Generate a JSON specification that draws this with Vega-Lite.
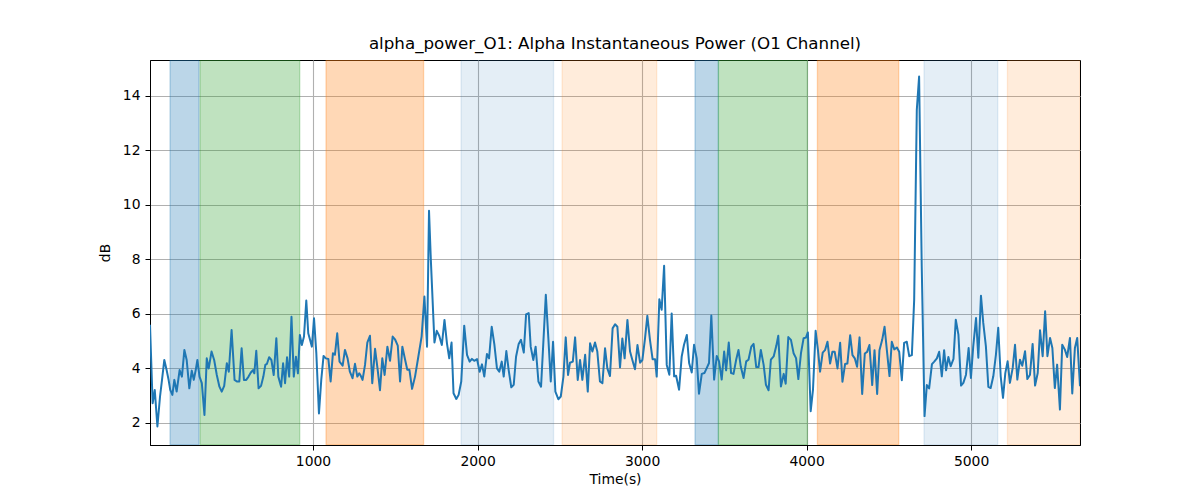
{
  "$schema": "https://vega.github.io/schema/vega-lite/v6.json",
  "width": 930,
  "height": 385,
  "autosize": "none",
  "padding": {"left": 150, "top": 60, "right": 120, "bottom": 55},
  "background": "white",
  "title": {
    "text": "alpha_power_O1: Alpha Instantaneous Power (O1 Channel)",
    "font": "DejaVu Sans",
    "fontSize": 16.7,
    "fontWeight": "normal",
    "color": "black",
    "anchor": "middle",
    "offset": 7
  },
  "config": {
    "font": "DejaVu Sans",
    "view": {"stroke": "black", "strokeWidth": 1},
    "axis": {
      "labelFont": "DejaVu Sans",
      "labelFontSize": 13.9,
      "labelColor": "black",
      "titleFont": "DejaVu Sans",
      "titleFontSize": 13.9,
      "titleFontWeight": "normal",
      "titleColor": "black",
      "tickColor": "black",
      "tickSize": 5,
      "domainColor": "black",
      "gridColor": "#b0b0b0",
      "gridWidth": 1.1,
      "labelPadding": 4
    }
  },
  "datasets": {
    "bands": [
      {"start": 131, "end": 307, "phase": "P1"},
      {"start": 313, "end": 919, "phase": "P2"},
      {"start": 1079, "end": 1672, "phase": "P3"},
      {"start": 1900, "end": 2462, "phase": "P4"},
      {"start": 2514, "end": 3089, "phase": "P5"},
      {"start": 3322, "end": 3464, "phase": "P1"},
      {"start": 3464, "end": 4005, "phase": "P2"},
      {"start": 4066, "end": 4560, "phase": "P3"},
      {"start": 4714, "end": 5162, "phase": "P4"},
      {"start": 5221, "end": 5662, "phase": "P5"}
    ],
    "power": [
      {"t": 9, "v": 5.6}, {"t": 25, "v": 2.72}, {"t": 38, "v": 3.21}, {"t": 54, "v": 1.87}, {"t": 70, "v": 2.97},
      {"t": 82, "v": 3.58}, {"t": 96, "v": 4.31}, {"t": 110, "v": 3.94}, {"t": 122, "v": 3.58}, {"t": 132, "v": 3.21},
      {"t": 145, "v": 3.03}, {"t": 157, "v": 3.58}, {"t": 171, "v": 3.15}, {"t": 189, "v": 3.94}, {"t": 203, "v": 3.7},
      {"t": 218, "v": 4.68}, {"t": 232, "v": 4.31}, {"t": 248, "v": 3.27}, {"t": 263, "v": 3.92}, {"t": 275, "v": 3.58},
      {"t": 287, "v": 3.94}, {"t": 297, "v": 4.31}, {"t": 310, "v": 3.7}, {"t": 324, "v": 3.46}, {"t": 340, "v": 2.29},
      {"t": 354, "v": 4.37}, {"t": 366, "v": 4.0}, {"t": 383, "v": 4.62}, {"t": 399, "v": 4.31}, {"t": 415, "v": 3.76},
      {"t": 431, "v": 3.33}, {"t": 445, "v": 3.15}, {"t": 460, "v": 3.36}, {"t": 476, "v": 4.19}, {"t": 488, "v": 3.88},
      {"t": 505, "v": 5.41}, {"t": 523, "v": 3.58}, {"t": 537, "v": 3.52}, {"t": 552, "v": 3.52}, {"t": 566, "v": 4.74},
      {"t": 580, "v": 3.58}, {"t": 594, "v": 3.58}, {"t": 608, "v": 3.7}, {"t": 622, "v": 3.85}, {"t": 635, "v": 3.94},
      {"t": 643, "v": 3.82}, {"t": 655, "v": 4.65}, {"t": 669, "v": 3.27}, {"t": 684, "v": 3.36}, {"t": 698, "v": 3.7},
      {"t": 710, "v": 4.13}, {"t": 720, "v": 4.17}, {"t": 733, "v": 4.41}, {"t": 747, "v": 4.31}, {"t": 761, "v": 3.76},
      {"t": 777, "v": 5.11}, {"t": 789, "v": 3.7}, {"t": 806, "v": 3.33}, {"t": 818, "v": 4.19}, {"t": 830, "v": 3.46},
      {"t": 842, "v": 4.41}, {"t": 855, "v": 3.7}, {"t": 869, "v": 5.9}, {"t": 883, "v": 3.7}, {"t": 896, "v": 4.43},
      {"t": 908, "v": 3.82}, {"t": 920, "v": 5.23}, {"t": 932, "v": 4.86}, {"t": 945, "v": 5.17}, {"t": 959, "v": 6.49},
      {"t": 971, "v": 5.29}, {"t": 985, "v": 4.98}, {"t": 993, "v": 4.8}, {"t": 1006, "v": 5.84}, {"t": 1020, "v": 4.56},
      {"t": 1036, "v": 2.35}, {"t": 1050, "v": 3.58}, {"t": 1064, "v": 4.46}, {"t": 1078, "v": 4.37}, {"t": 1093, "v": 4.35},
      {"t": 1107, "v": 3.52}, {"t": 1121, "v": 4.56}, {"t": 1133, "v": 4.5}, {"t": 1147, "v": 5.29}, {"t": 1161, "v": 4.25},
      {"t": 1180, "v": 4.1}, {"t": 1194, "v": 4.68}, {"t": 1210, "v": 4.37}, {"t": 1224, "v": 3.88}, {"t": 1240, "v": 3.64},
      {"t": 1255, "v": 4.17}, {"t": 1269, "v": 3.7}, {"t": 1281, "v": 3.82}, {"t": 1291, "v": 3.72}, {"t": 1301, "v": 3.58},
      {"t": 1316, "v": 4.13}, {"t": 1330, "v": 4.95}, {"t": 1346, "v": 5.2}, {"t": 1360, "v": 3.46}, {"t": 1377, "v": 4.72},
      {"t": 1393, "v": 3.95}, {"t": 1407, "v": 3.2}, {"t": 1421, "v": 4.37}, {"t": 1435, "v": 3.76}, {"t": 1452, "v": 4.8},
      {"t": 1468, "v": 4.28}, {"t": 1484, "v": 5.17}, {"t": 1498, "v": 5.07}, {"t": 1515, "v": 4.84}, {"t": 1529, "v": 3.52},
      {"t": 1543, "v": 4.8}, {"t": 1559, "v": 4.34}, {"t": 1573, "v": 3.95}, {"t": 1586, "v": 3.95}, {"t": 1602, "v": 3.25},
      {"t": 1620, "v": 3.7}, {"t": 1640, "v": 4.43}, {"t": 1660, "v": 5.17}, {"t": 1677, "v": 6.64}, {"t": 1693, "v": 4.8},
      {"t": 1705, "v": 9.79}, {"t": 1716, "v": 8.0}, {"t": 1738, "v": 4.95}, {"t": 1752, "v": 5.38}, {"t": 1767, "v": 5.2},
      {"t": 1783, "v": 4.86}, {"t": 1799, "v": 5.78}, {"t": 1814, "v": 4.92}, {"t": 1828, "v": 4.37}, {"t": 1842, "v": 4.95},
      {"t": 1854, "v": 3.09}, {"t": 1871, "v": 2.88}, {"t": 1885, "v": 3.03}, {"t": 1901, "v": 3.52}, {"t": 1919, "v": 5.57},
      {"t": 1936, "v": 4.5}, {"t": 1952, "v": 4.25}, {"t": 1966, "v": 4.35}, {"t": 1980, "v": 4.28}, {"t": 1997, "v": 4.34},
      {"t": 2013, "v": 3.88}, {"t": 2027, "v": 4.15}, {"t": 2041, "v": 3.7}, {"t": 2057, "v": 4.53}, {"t": 2070, "v": 4.37},
      {"t": 2086, "v": 5.53}, {"t": 2102, "v": 4.89}, {"t": 2118, "v": 4.0}, {"t": 2132, "v": 3.88}, {"t": 2147, "v": 4.25},
      {"t": 2159, "v": 3.7}, {"t": 2175, "v": 4.64}, {"t": 2189, "v": 3.95}, {"t": 2205, "v": 3.31}, {"t": 2220, "v": 3.4},
      {"t": 2234, "v": 4.43}, {"t": 2250, "v": 4.9}, {"t": 2264, "v": 5.05}, {"t": 2281, "v": 4.58}, {"t": 2295, "v": 5.98},
      {"t": 2311, "v": 6.03}, {"t": 2323, "v": 4.8}, {"t": 2339, "v": 4.31}, {"t": 2353, "v": 4.8}, {"t": 2370, "v": 3.52},
      {"t": 2386, "v": 3.33}, {"t": 2415, "v": 6.7}, {"t": 2431, "v": 5.05}, {"t": 2445, "v": 3.52}, {"t": 2459, "v": 4.98},
      {"t": 2473, "v": 3.15}, {"t": 2491, "v": 2.87}, {"t": 2506, "v": 2.97}, {"t": 2522, "v": 3.7}, {"t": 2536, "v": 5.14},
      {"t": 2550, "v": 3.76}, {"t": 2562, "v": 4.21}, {"t": 2579, "v": 4.25}, {"t": 2593, "v": 5.14}, {"t": 2609, "v": 3.58},
      {"t": 2623, "v": 4.31}, {"t": 2637, "v": 3.58}, {"t": 2654, "v": 4.5}, {"t": 2670, "v": 3.15}, {"t": 2684, "v": 4.92},
      {"t": 2698, "v": 4.62}, {"t": 2714, "v": 4.95}, {"t": 2728, "v": 4.62}, {"t": 2744, "v": 3.52}, {"t": 2759, "v": 3.46},
      {"t": 2775, "v": 4.74}, {"t": 2789, "v": 4.0}, {"t": 2805, "v": 3.72}, {"t": 2821, "v": 5.47}, {"t": 2836, "v": 5.62},
      {"t": 2850, "v": 5.53}, {"t": 2866, "v": 4.04}, {"t": 2880, "v": 5.1}, {"t": 2894, "v": 4.37}, {"t": 2911, "v": 5.78},
      {"t": 2927, "v": 4.62}, {"t": 2941, "v": 4.31}, {"t": 2957, "v": 3.97}, {"t": 2972, "v": 4.86}, {"t": 2988, "v": 4.21},
      {"t": 3002, "v": 4.31}, {"t": 3018, "v": 5.1}, {"t": 3032, "v": 5.93}, {"t": 3048, "v": 5.05}, {"t": 3064, "v": 4.34},
      {"t": 3079, "v": 4.34}, {"t": 3089, "v": 3.7}, {"t": 3105, "v": 6.54}, {"t": 3119, "v": 6.15}, {"t": 3134, "v": 7.77},
      {"t": 3150, "v": 4.13}, {"t": 3166, "v": 3.77}, {"t": 3180, "v": 6.02}, {"t": 3195, "v": 3.71}, {"t": 3207, "v": 3.73},
      {"t": 3225, "v": 3.22}, {"t": 3241, "v": 4.44}, {"t": 3255, "v": 4.87}, {"t": 3272, "v": 5.23}, {"t": 3286, "v": 4.2},
      {"t": 3302, "v": 3.85}, {"t": 3316, "v": 4.87}, {"t": 3332, "v": 4.38}, {"t": 3346, "v": 3.07}, {"t": 3363, "v": 3.8},
      {"t": 3379, "v": 3.83}, {"t": 3393, "v": 4.01}, {"t": 3407, "v": 4.2}, {"t": 3421, "v": 5.94}, {"t": 3438, "v": 3.59},
      {"t": 3454, "v": 4.46}, {"t": 3468, "v": 4.26}, {"t": 3484, "v": 3.59}, {"t": 3499, "v": 4.62}, {"t": 3511, "v": 3.93},
      {"t": 3527, "v": 4.95}, {"t": 3541, "v": 3.83}, {"t": 3556, "v": 3.8}, {"t": 3572, "v": 4.32}, {"t": 3586, "v": 4.68},
      {"t": 3600, "v": 4.07}, {"t": 3617, "v": 3.65}, {"t": 3633, "v": 4.26}, {"t": 3647, "v": 4.32}, {"t": 3664, "v": 4.8},
      {"t": 3678, "v": 4.9}, {"t": 3694, "v": 4.05}, {"t": 3708, "v": 4.05}, {"t": 3722, "v": 4.68}, {"t": 3739, "v": 4.13},
      {"t": 3753, "v": 3.4}, {"t": 3769, "v": 3.2}, {"t": 3783, "v": 4.32}, {"t": 3800, "v": 4.44}, {"t": 3816, "v": 4.83},
      {"t": 3828, "v": 5.2}, {"t": 3844, "v": 3.34}, {"t": 3861, "v": 3.8}, {"t": 3873, "v": 3.44}, {"t": 3889, "v": 5.15},
      {"t": 3905, "v": 5.05}, {"t": 3921, "v": 4.56}, {"t": 3936, "v": 4.38}, {"t": 3950, "v": 3.61}, {"t": 3966, "v": 4.56},
      {"t": 3982, "v": 5.11}, {"t": 3996, "v": 5.13}, {"t": 4008, "v": 5.32}, {"t": 4025, "v": 2.43}, {"t": 4039, "v": 3.22},
      {"t": 4055, "v": 5.38}, {"t": 4069, "v": 4.68}, {"t": 4082, "v": 3.88}, {"t": 4098, "v": 4.58}, {"t": 4112, "v": 4.67},
      {"t": 4127, "v": 4.98}, {"t": 4143, "v": 4.18}, {"t": 4157, "v": 4.61}, {"t": 4171, "v": 4.61}, {"t": 4188, "v": 4.0},
      {"t": 4204, "v": 4.94}, {"t": 4218, "v": 3.51}, {"t": 4234, "v": 4.16}, {"t": 4248, "v": 4.18}, {"t": 4265, "v": 5.22},
      {"t": 4279, "v": 4.49}, {"t": 4293, "v": 4.37}, {"t": 4307, "v": 4.06}, {"t": 4322, "v": 5.14}, {"t": 4338, "v": 3.06},
      {"t": 4354, "v": 4.55}, {"t": 4368, "v": 4.61}, {"t": 4382, "v": 4.86}, {"t": 4399, "v": 3.39}, {"t": 4413, "v": 4.67},
      {"t": 4429, "v": 3.06}, {"t": 4443, "v": 4.67}, {"t": 4460, "v": 5.06}, {"t": 4474, "v": 5.53}, {"t": 4488, "v": 4.67},
      {"t": 4504, "v": 3.72}, {"t": 4518, "v": 4.98}, {"t": 4533, "v": 4.7}, {"t": 4549, "v": 4.77}, {"t": 4563, "v": 4.61},
      {"t": 4579, "v": 3.57}, {"t": 4593, "v": 4.94}, {"t": 4609, "v": 4.98}, {"t": 4624, "v": 4.45}, {"t": 4640, "v": 4.49},
      {"t": 4654, "v": 6.51}, {"t": 4670, "v": 13.49}, {"t": 4684, "v": 14.71}, {"t": 4700, "v": 7.73}, {"t": 4717, "v": 2.25},
      {"t": 4731, "v": 3.39}, {"t": 4745, "v": 3.27}, {"t": 4762, "v": 4.16}, {"t": 4776, "v": 4.25}, {"t": 4792, "v": 4.37},
      {"t": 4806, "v": 4.61}, {"t": 4822, "v": 3.71}, {"t": 4836, "v": 4.67}, {"t": 4848, "v": 3.93}, {"t": 4862, "v": 4.42},
      {"t": 4876, "v": 4.08}, {"t": 4893, "v": 4.35}, {"t": 4907, "v": 5.79}, {"t": 4923, "v": 5.24}, {"t": 4939, "v": 3.37},
      {"t": 4953, "v": 3.47}, {"t": 4969, "v": 3.77}, {"t": 4985, "v": 4.75}, {"t": 4999, "v": 3.65}, {"t": 5013, "v": 4.81},
      {"t": 5030, "v": 5.85}, {"t": 5044, "v": 4.39}, {"t": 5060, "v": 6.67}, {"t": 5074, "v": 5.67}, {"t": 5090, "v": 4.81},
      {"t": 5105, "v": 3.32}, {"t": 5119, "v": 3.28}, {"t": 5135, "v": 3.71}, {"t": 5151, "v": 4.51}, {"t": 5165, "v": 5.49},
      {"t": 5180, "v": 3.71}, {"t": 5194, "v": 2.92}, {"t": 5208, "v": 3.83}, {"t": 5222, "v": 4.26}, {"t": 5236, "v": 3.47},
      {"t": 5253, "v": 4.02}, {"t": 5267, "v": 4.87}, {"t": 5281, "v": 3.59}, {"t": 5297, "v": 4.32}, {"t": 5311, "v": 4.1},
      {"t": 5328, "v": 4.63}, {"t": 5342, "v": 3.61}, {"t": 5358, "v": 3.77}, {"t": 5374, "v": 4.9}, {"t": 5389, "v": 3.37},
      {"t": 5405, "v": 3.83}, {"t": 5419, "v": 5.4}, {"t": 5435, "v": 4.45}, {"t": 5450, "v": 6.1}, {"t": 5464, "v": 4.45},
      {"t": 5480, "v": 5.12}, {"t": 5494, "v": 4.75}, {"t": 5509, "v": 3.28}, {"t": 5523, "v": 4.14}, {"t": 5540, "v": 2.49},
      {"t": 5554, "v": 4.87}, {"t": 5570, "v": 4.69}, {"t": 5584, "v": 4.42}, {"t": 5601, "v": 5.12}, {"t": 5615, "v": 3.08},
      {"t": 5631, "v": 4.75}, {"t": 5645, "v": 5.12}, {"t": 5662, "v": 3.35}
    ]
  },
  "layer": [
    {
      "data": {"name": "bands"},
      "mark": {"type": "rect", "strokeWidth": 1.3, "clip": true},
      "encoding": {
        "x": {
          "field": "start",
          "type": "quantitative",
          "scale": {"domain": [9, 5662], "nice": false, "zero": false},
          "axis": {"title": "Time(s)", "values": [1000, 2000, 3000, 4000, 5000], "format": "d", "titlePadding": 5}
        },
        "x2": {"field": "end"},
        "fill": {
          "field": "phase",
          "type": "nominal",
          "scale": {"type": "ordinal", "domain": ["P1", "P2", "P3", "P4", "P5"], "range": ["#1f77b4", "#2ca02c", "#ff7f0e", "#1f77b4", "#ff7f0e"]},
          "legend": null
        },
        "stroke": {
          "field": "phase",
          "type": "nominal",
          "scale": {"type": "ordinal", "domain": ["P1", "P2", "P3", "P4", "P5"], "range": ["#1f77b4", "#2ca02c", "#ff7f0e", "#1f77b4", "#ff7f0e"]},
          "legend": null
        },
        "fillOpacity": {
          "field": "phase",
          "type": "nominal",
          "scale": {"type": "ordinal", "domain": ["P1", "P2", "P3", "P4", "P5"], "range": [0.3, 0.3, 0.3, 0.12, 0.15]},
          "legend": null
        },
        "strokeOpacity": {
          "field": "phase",
          "type": "nominal",
          "scale": {"type": "ordinal", "domain": ["P1", "P2", "P3", "P4", "P5"], "range": [0.3, 0.3, 0.3, 0.12, 0.15]},
          "legend": null
        }
      }
    },
    {
      "data": {"name": "power"},
      "mark": {"type": "line", "color": "#1f77b4", "strokeWidth": 2, "strokeJoin": "round", "clip": true},
      "encoding": {
        "x": {
          "field": "t",
          "type": "quantitative",
          "scale": {"domain": [9, 5662], "nice": false, "zero": false},
          "axis": {"title": "Time(s)", "values": [1000, 2000, 3000, 4000, 5000], "format": "d", "titlePadding": 5}
        },
        "y": {
          "field": "v",
          "type": "quantitative",
          "scale": {"domain": [1.19, 15.32], "nice": false, "zero": false},
          "axis": {"title": "dB", "values": [2, 4, 6, 8, 10, 12, 14], "labelPadding": 5, "titlePadding": 10}
        }
      }
    }
  ]
}
